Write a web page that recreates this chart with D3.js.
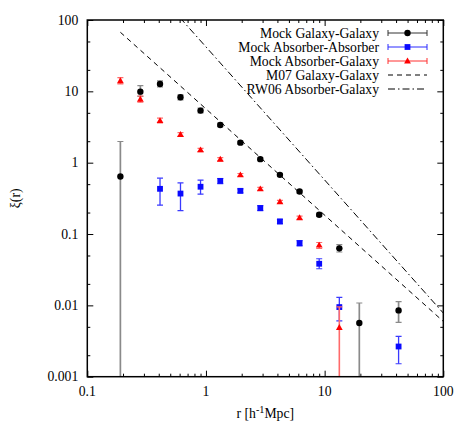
<!DOCTYPE html>
<html>
<head>
<meta charset="utf-8">
<script src="https://cdn.jsdelivr.net/npm/d3@7"></script>
<style>
  body { margin: 0; background: #fff; }
  text { font-family: "Liberation Serif", "Times New Roman", serif; }
</style>
</head>
<body>
<div id="chart"></div>
<script>
const WIDTH = 467, HEIGHT = 436;
const LEFT = 87.3, RIGHT = 443.3, TOP = 20, BOTTOM = 376.7;
const FONT = 13.7;

// r bins [h^-1 Mpc] and xi(r) with error bar ends: [r, xi, lo, hi]
const galaxyGalaxy = [
  [0.19, 0.64, 0.0005, 1.98],
  [0.28, 9.9, 8.5, 12.0],
  [0.41, 12.7, 11.5, 14.0],
  [0.61, 8.26, 7.6, 8.9],
  [0.9, 5.37, 5.0, 5.8],
  [1.32, 3.38, 3.2, 3.6],
  [1.95, 1.91, 1.82, 2.0],
  [2.87, 1.12, 1.07, 1.17],
  [4.2, 0.675, 0.645, 0.705],
  [6.15, 0.394, 0.375, 0.41],
  [9.0, 0.186, 0.176, 0.196],
  [13.3, 0.063, 0.056, 0.071],
  [19.6, 0.00565, 0.0005, 0.0108],
  [42, 0.0085, 0.00577, 0.0113]
];
const absorberAbsorber = [
  [0.41, 0.43, 0.254, 0.607],
  [0.61, 0.369, 0.213, 0.52],
  [0.9, 0.46, 0.362, 0.57],
  [1.32, 0.556, 0.51, 0.6],
  [1.95, 0.403, 0.378, 0.43],
  [2.87, 0.231, 0.213, 0.25],
  [4.2, 0.15, 0.14, 0.16],
  [6.15, 0.0745, 0.068, 0.081],
  [9.0, 0.0383, 0.0326, 0.045],
  [13.3, 0.00946, 0.00608, 0.0129],
  [42, 0.00265, 0.00152, 0.00367]
];
const absorberGalaxy = [
  [0.19, 14.1, 12.7, 15.6],
  [0.28, 7.74, 7.03, 8.6],
  [0.41, 3.89, 3.6, 4.2],
  [0.61, 2.48, 2.33, 2.63],
  [0.9, 1.51, 1.43, 1.59],
  [1.32, 1.12, 1.06, 1.18],
  [1.95, 0.675, 0.645, 0.705],
  [2.87, 0.43, 0.41, 0.45],
  [4.2, 0.283, 0.27, 0.296],
  [6.15, 0.169, 0.16, 0.178],
  [9.0, 0.0699, 0.0627, 0.076],
  [13.3, 0.0049, 0.0005, 0.0095]
];
// power-law fits, end points [r, xi]
const m07Line = [[0.19, 67.3], [100, 0.00596]];
const rw06Line = [[0.5, 153], [100, 0.0078]];

const xMajor = [0.1, 1, 10, 100];
const yMajor = [0.001, 0.01, 0.1, 1, 10, 100];
const xTickLabels = ["0.1", "1", "10", "100"];
const yTickLabels = ["0.001", "0.01", "0.1", "1", "10", "100"];
const legendLabels = ["Mock Galaxy-Galaxy", "Mock Absorber-Absorber", "Mock Absorber-Galaxy", "M07 Galaxy-Galaxy", "RW06 Absorber-Galaxy"];

const xMinor = [], yMinor = [];
[0.1, 1, 10].forEach(d => { for (let k = 2; k <= 9; k++) xMinor.push(d * k) });
[0.001, 0.01, 0.1, 1, 10].forEach(d => { yMinor.push(d * 2); yMinor.push(d * 5) });

const svg = d3.select("#chart").append("svg")
  .attr("width", WIDTH).attr("height", HEIGHT);

const x = d3.scaleLog().domain([0.1, 100]).range([LEFT, RIGHT]);
const y = d3.scaleLog().domain([0.001, 100]).range([BOTTOM, TOP]);

svg.append("clipPath").attr("id", "clip")
  .append("rect").attr("x", LEFT).attr("y", TOP)
  .attr("width", RIGHT - LEFT).attr("height", BOTTOM - TOP);

// ticks on all four sides, pointing inward
function drawTicks(axisFn, scale, values, size, transform) {
  const g = svg.append("g").attr("transform", transform)
    .call(axisFn(scale).tickValues(values).tickSize(-size).tickFormat(""));
  g.select(".domain").remove();
  g.selectAll("line").attr("stroke", "#000").attr("stroke-width", 1);
}
drawTicks(d3.axisBottom, x, xMajor, 6, `translate(0,${BOTTOM})`);
drawTicks(d3.axisBottom, x, xMinor, 3, `translate(0,${BOTTOM})`);
drawTicks(d3.axisTop, x, xMajor, 6, `translate(0,${TOP})`);
drawTicks(d3.axisTop, x, xMinor, 3, `translate(0,${TOP})`);
drawTicks(d3.axisLeft, y, yMajor, 6, `translate(${LEFT},0)`);
drawTicks(d3.axisLeft, y, yMinor, 3, `translate(${LEFT},0)`);
drawTicks(d3.axisRight, y, yMajor, 6, `translate(${RIGHT},0)`);
drawTicks(d3.axisRight, y, yMinor, 3, `translate(${RIGHT},0)`);

svg.append("g").selectAll("text").data(xMajor).join("text")
  .attr("x", d => x(d)).attr("y", 391)
  .attr("text-anchor", "middle").attr("dominant-baseline", "central")
  .attr("font-size", FONT)
  .text((d, i) => xTickLabels[i]);
svg.append("g").selectAll("text").data(yMajor).join("text")
  .attr("x", LEFT - 9).attr("y", d => y(d))
  .attr("text-anchor", "end").attr("dominant-baseline", "central")
  .attr("font-size", FONT)
  .text((d, i) => yTickLabels[i]);

// axis titles
const xTitle = svg.append("text")
  .attr("x", (LEFT + RIGHT) / 2).attr("y", 418)
  .attr("text-anchor", "middle").attr("font-size", FONT);
xTitle.append("tspan").text("r [h");
xTitle.append("tspan").attr("dy", -5).attr("font-size", FONT * 0.75).text("-1");
xTitle.append("tspan").attr("dy", 5).text("Mpc]");

svg.append("text")
  .attr("transform", `translate(15,${(TOP + BOTTOM) / 2}) rotate(-90)`)
  .attr("text-anchor", "middle").attr("dominant-baseline", "central")
  .attr("font-size", FONT)
  .text("ξ(r)");

const plot = svg.append("g").attr("clip-path", "url(#clip)");
const line = d3.line().x(d => x(d[0])).y(d => y(d[1]));

const series = [
  { data: galaxyGalaxy, color: "#000", bar: "#8a8a8a", barWidth: 1.7, legBar: "#333", shape: "circle" },
  { data: absorberAbsorber, color: "#0a0aff", bar: "#3a3aff", barWidth: 1.3, legBar: "#2a2aff", shape: "square" },
  { data: absorberGalaxy, color: "#ff0000", bar: "#ff6a6a", barWidth: 1.6, legBar: "#ff3030", shape: "triangle" }
];

function drawMarker(g, shape, cx, cy, color) {
  if (shape === "circle") {
    g.append("circle").attr("cx", cx).attr("cy", cy).attr("r", 3.2).attr("fill", color);
  } else if (shape === "square") {
    g.append("rect").attr("x", cx - 2.9).attr("y", cy - 2.9)
      .attr("width", 5.8).attr("height", 5.8).attr("fill", color);
  } else {
    g.append("path").attr("d", d3.symbol(d3.symbolTriangle, 20)())
      .attr("transform", `translate(${cx},${cy + 0.5})`).attr("fill", color);
  }
}

series.forEach(s => {
  const g = plot.append("g");
  s.data.forEach(d => {
    const px = x(d[0]);
    g.append("line").attr("x1", px).attr("x2", px)
      .attr("y1", y(d[2])).attr("y2", y(d[3]))
      .attr("stroke", s.bar).attr("stroke-width", s.barWidth);
    [d[2], d[3]].forEach(v => {
      g.append("line").attr("x1", px - 3).attr("x2", px + 3)
        .attr("y1", y(v)).attr("y2", y(v))
        .attr("stroke", s.bar).attr("stroke-width", 1.2);
    });
    drawMarker(g, s.shape, px, y(d[1]), s.color);
  });
});

plot.append("path").datum(m07Line).attr("d", line)
  .attr("fill", "none").attr("stroke", "#000").attr("stroke-width", 1)
  .attr("stroke-dasharray", "5,4");
plot.append("path").datum(rw06Line).attr("d", line)
  .attr("fill", "none").attr("stroke", "#000").attr("stroke-width", 1)
  .attr("stroke-dasharray", "7,3,1.5,3");

// frame
svg.append("rect").attr("x", LEFT).attr("y", TOP)
  .attr("width", RIGHT - LEFT).attr("height", BOTTOM - TOP)
  .attr("fill", "none").attr("stroke", "#000").attr("stroke-width", 1.5);

// legend
const LEG_TEXT_X = 379, LEG_X1 = 388, LEG_X2 = 427, LEG_Y0 = 33, LEG_DY = 14;
const legend = svg.append("g");
legendLabels.forEach((label, i) => {
  const ly = LEG_Y0 + i * LEG_DY;
  legend.append("text").attr("x", LEG_TEXT_X).attr("y", ly)
    .attr("text-anchor", "end").attr("dominant-baseline", "central")
    .attr("font-size", FONT).text(label);
  if (i < 3) {
    const s = series[i];
    legend.append("line").attr("x1", LEG_X1).attr("x2", LEG_X2)
      .attr("y1", ly).attr("y2", ly).attr("stroke", s.legBar);
    [LEG_X1, LEG_X2].forEach(ex => legend.append("line")
      .attr("x1", ex).attr("x2", ex).attr("y1", ly - 3).attr("y2", ly + 3)
      .attr("stroke", s.legBar));
    drawMarker(legend, s.shape, (LEG_X1 + LEG_X2) / 2, ly, s.color);
  } else {
    legend.append("line").attr("x1", LEG_X1).attr("x2", LEG_X2)
      .attr("y1", ly).attr("y2", ly).attr("stroke", "#000")
      .attr("stroke-dasharray", i === 3 ? "5,4" : "7,3,1.5,3");
  }
});
</script>
</body>
</html>
